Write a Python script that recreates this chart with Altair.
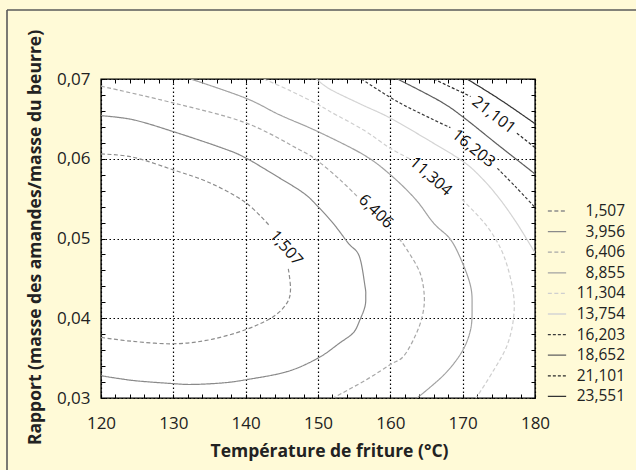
import altair as alt
import pandas as pd

# ---------------- data ----------------
levels = ["1,507", "3,956", "6,406", "8,855", "11,304",
          "13,754", "16,203", "18,652", "21,101", "23,551"]
colors = ["#8c8c8c", "#8a8a8a", "#a8a8a8", "#a2a2a2", "#cfcfcf",
          "#d4d4d4", "#3a3a3a", "#5e5e5e", "#2a2a2a", "#333333"]
dashes = [[4, 2.5], [1, 0], [4, 2.5], [1, 0], [4, 2.5],
          [1, 0], [3, 2], [1, 0], [3, 2], [1, 0]]

T_1507a = [120, 124.4, 130, 135, 140, 143.4]
R_1507a = [0.0606, 0.0602, 0.0586, 0.0570, 0.0545, 0.0515]
T_1507b = [145.9, 146.2, 145.7, 143.8, 140.1, 135.0, 130.0, 124.4, 120]
R_1507b = [0.0462, 0.0436, 0.0419, 0.0402, 0.0386, 0.0373, 0.0368, 0.0371, 0.0376]

T_3956 = [120, 124.4, 130, 136.9, 140, 144.3, 148.0, 150.0, 152.1, 154.2, 155.7, 156.5,
          156.6, 156.5, 155.8, 154.9, 153.0, 150.0, 145.7, 140.1, 136.9, 132.7, 130, 124.4, 120]
R_3956 = [0.0654, 0.0649, 0.0634, 0.0613, 0.0601, 0.0578, 0.0557, 0.0540, 0.0519, 0.0494, 0.0478, 0.0440,
          0.0428, 0.0415, 0.0398, 0.0382, 0.0369, 0.0350, 0.0333, 0.0323, 0.0319, 0.0317, 0.0318, 0.0322, 0.0328]

T_6406a = [120, 130, 140, 147.5, 150, 153.0, 155.4]
R_6406a = [0.0691, 0.0670, 0.0645, 0.0611, 0.0597, 0.0574, 0.0553]
T_6406b = [161.2, 162.3, 164.1, 164.7, 164.4, 163.4, 161.8, 160.0, 156.7, 152.1]
R_6406b = [0.0500, 0.0486, 0.0457, 0.0427, 0.0402, 0.0377, 0.0352, 0.0342, 0.0323, 0.0300]

T_8855 = [132.4, 140.0, 144.7, 150.0, 156.3, 160.0, 163.5, 166.0, 168.3, 169.9,
          171.1, 171.3, 171.1, 169.9, 167.4, 163.7]
R_8855 = [0.0700, 0.0676, 0.0655, 0.0634, 0.0605, 0.0580, 0.0549, 0.0519, 0.0499, 0.0471,
          0.0440, 0.0415, 0.0386, 0.0358, 0.0329, 0.0300]

T_11304a = [142.5, 146, 150, 151.7, 156.3, 160.0, 162.7]
R_11304a = [0.0700, 0.0686, 0.0668, 0.0659, 0.0636, 0.0613, 0.0600]
T_11304b = [169.9, 173.4, 175.7, 177.0, 177.0, 176.1, 174.3, 172.0, 171.7]
R_11304b = [0.0549, 0.0515, 0.0478, 0.0432, 0.0398, 0.0365, 0.0335, 0.0302, 0.0300]

T_13754 = [149.8, 151.7, 156, 160, 165.5, 170, 172.5, 175, 177.5, 180]
R_13754 = [0.0700, 0.0687, 0.0668, 0.0651, 0.0622, 0.0597, 0.0577, 0.0551, 0.0519, 0.0482]

T_16203a = [156.0, 160.9, 165.5, 168.3]
R_16203a = [0.0700, 0.0672, 0.0651, 0.0639]
T_16203b = [174.8, 177.3, 180]
R_16203b = [0.0588, 0.0565, 0.0539]

T_18652 = [161.0, 166.9, 170.1, 174.8, 180]
R_18652 = [0.0700, 0.0672, 0.0652, 0.0618, 0.0581]

T_21101a = [166.0, 171.1]
R_21101a = [0.0700, 0.0678]
T_21101b = [177.5, 180]
R_21101b = [0.0632, 0.0614]

T_23551 = [170.6, 175.2, 180]
R_23551 = [0.0700, 0.0674, 0.0644]

lab_text = ["1,507", "6,406", "11,304", "16,203", "21,101"]
lab_T = [145.6, 158.0, 165.6, 171.5, 174.3]
lab_R = [0.0488, 0.0534, 0.0578, 0.0613, 0.0655]
lab_angle = [49, 44, 41, 39, 38]

x_major = [120, 130, 140, 150, 160, 170, 180]
y_major = [0.03, 0.04, 0.05, 0.06, 0.07]
x_minor = list(range(120, 181, 2))
y_minor = [round(0.03 + 0.002 * k, 3) for k in range(21)]

# ---------------- tables ----------------
segments = [
    ("1,507", T_1507a, R_1507a), ("1,507", T_1507b, R_1507b),
    ("3,956", T_3956, R_3956),
    ("6,406", T_6406a, R_6406a), ("6,406", T_6406b, R_6406b),
    ("8,855", T_8855, R_8855),
    ("11,304", T_11304a, R_11304a), ("11,304", T_11304b, R_11304b),
    ("13,754", T_13754, R_13754),
    ("16,203", T_16203a, R_16203a), ("16,203", T_16203b, R_16203b),
    ("18,652", T_18652, R_18652),
    ("21,101", T_21101a, R_21101a), ("21,101", T_21101b, R_21101b),
    ("23,551", T_23551, R_23551),
]
rows = []
for s, (lev, ts, rs) in enumerate(segments):
    for i, (t, r) in enumerate(zip(ts, rs)):
        rows.append({"T": t, "R": r, "level": lev, "seg": s, "i": i})
df_lines = pd.DataFrame(rows)
df_labels = pd.DataFrame({"T": lab_T, "R": lab_R, "txt": lab_text, "ang": lab_angle})

W, H = 434, 319
FONT = "Open Sans"

xs = alt.Scale(domain=[120, 180], nice=False, zero=False)
ys = alt.Scale(domain=[0.03, 0.07], nice=False, zero=False)

main_x = alt.Axis(orient="bottom", values=x_major, grid=True, gridDash=[1.5, 2.5],
                  gridColor="#000000", gridWidth=1.2, gridOpacity=1, ticks=False, tickSize=0,
                  domain=False, labelFont=FONT, labelFontSize=17, labelColor="#222222",
                  labelPadding=17, labelFlush=False,
                  title="Température de friture (°C)", titleFont=FONT, titleFontSize=17.5,
                  titleFontWeight="bold", titleColor="#222222", titleX=228, titleY=53,
                  titleBaseline="middle")
main_y = alt.Axis(orient="left", values=y_major, grid=True, gridDash=[1.5, 2.5],
                  gridColor="#000000", gridWidth=1.2, gridOpacity=1, ticks=False, tickSize=0,
                  domain=False, labelFont=FONT, labelFontSize=17, labelColor="#222222",
                  labelPadding=11, labelFlush=False, format=".2f",
                  labelExpr="replace(datum.label, '.', ',')",
                  title="Rapport (masse des amandes/masse du beurre)", titleFont=FONT,
                  titleFontSize=17.5, titleFontWeight="bold", titleColor="#222222",
                  titleX=-66, titleY=158, titleBaseline="middle", titleAngle=270)


def minor_axis(orient, offset, vals):
    return alt.Axis(orient=orient, offset=offset, values=vals, labels=False, domain=False,
                    grid=False, ticks=True, tickSize=4, tickColor="#000000", tickWidth=1,
                    title=None)


leg = alt.Legend(title=None, orient="none", legendX=446, legendY=122, symbolType="stroke",
                 symbolSize=335, symbolStrokeWidth=1.3, labelFont=FONT, labelFontSize=15.5,
                 labelColor="#222222", labelAlign="right", labelOffset=58, rowPadding=1.6,
                 padding=0, labelLimit=200)

lines = alt.Chart(df_lines).mark_line(strokeWidth=1.2, interpolate="cardinal", clip=True).encode(
    x=alt.X("T:Q", scale=xs, axis=main_x),
    y=alt.Y("R:Q", scale=ys, axis=main_y),
    stroke=alt.Stroke("level:N", scale=alt.Scale(domain=levels, range=colors), legend=leg),
    strokeDash=alt.StrokeDash("level:N", scale=alt.Scale(domain=levels, range=dashes), legend=leg),
    detail="seg:N",
    order="i:Q",
)

labels = alt.Chart(df_labels).mark_text(font=FONT, fontSize=16, color="#111111").encode(
    x=alt.X("T:Q", scale=xs, axis=minor_axis("top", -H, x_minor)),
    y=alt.Y("R:Q", scale=ys, axis=minor_axis("right", -W, y_minor)),
    text="txt:N",
    angle=alt.Angle("ang:Q", scale=None),
)

ghost = alt.Chart(df_labels).mark_point(opacity=0).encode(
    x=alt.X("T:Q", scale=xs, axis=minor_axis("bottom", -H, x_minor)),
    y=alt.Y("R:Q", scale=ys, axis=minor_axis("left", -W, y_minor)),
)

frame_v = alt.Chart(alt.Data(values=[{"k": 1}])).mark_rule(color="#5a5a5a", strokeWidth=1.6).encode(
    x=alt.value(-94), y=alt.value(-69), y2=alt.value(395))
frame_h = alt.Chart(alt.Data(values=[{"k": 1}])).mark_rule(color="#5a5a5a", strokeWidth=1.6).encode(
    x=alt.value(-94), x2=alt.value(545), y=alt.value(-69))

chart = alt.layer(lines, labels, ghost, frame_v, frame_h).resolve_axis(
    x="independent", y="independent"
).properties(
    width=W, height=H,
    autosize=alt.AutoSizeParams(type="none"),
    padding={"left": 101, "top": 79, "right": 101, "bottom": 72},
    background="#FFFAD7",
).configure_view(fill="white", stroke="#000000", strokeWidth=1.4)

chart.save("out.html", embed_options={"renderer": "svg", "actions": False})
